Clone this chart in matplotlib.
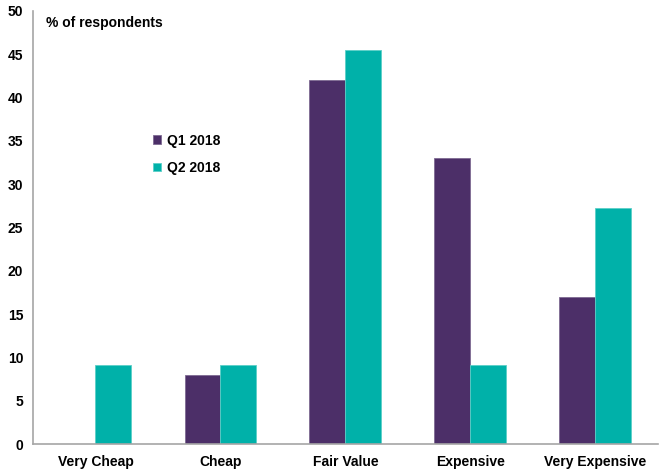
import numpy as np
import matplotlib.pyplot as plt

plt.rcParams['font.family'] = ['Liberation Sans', 'DejaVu Sans']
plt.rcParams['font.weight'] = 'bold'

# survey results, % of respondents
categories = ['Very Cheap', 'Cheap', 'Fair Value', 'Expensive', 'Very Expensive']
q1_2018 = [0, 8, 42, 33, 17]
q2_2018 = [9.1, 9.1, 45.5, 9.1, 27.3]

purple = '#4C2F68'
teal = '#00B1A9'

fig = plt.figure(figsize=(6.59, 4.70), dpi=100)
ax = fig.add_axes([0.050, 0.055, 0.948, 0.922])

x = np.arange(len(categories))
w = 0.287
ax.bar(x - w / 2, q1_2018, w, color=purple, label='Q1 2018',
       edgecolor='#7E6A92', linewidth=0.6)
ax.bar(x + w / 2, q2_2018, w, color=teal, label='Q2 2018',
       edgecolor='#5CCFC8', linewidth=0.6)

ax.set_xlim(-0.5, 4.5)
ax.set_ylim(0, 50)
ax.set_yticks(range(0, 51, 5))
ax.set_xticks(x)
ax.set_xticklabels(categories)
ax.tick_params(axis='both', length=0, labelsize=10)
ax.tick_params(axis='x', pad=8)
ax.tick_params(axis='y', pad=7)
for lbl in ax.get_xticklabels() + ax.get_yticklabels():
    lbl.set_fontweight('bold')

for s in ['top', 'right']:
    ax.spines[s].set_visible(False)
for s in ['left', 'bottom']:
    ax.spines[s].set_color('#A6A6A6')
    ax.spines[s].set_linewidth(1.2)

fig.text(0.070, 0.952, '% of respondents', fontsize=10, fontweight='bold',
         va='center', ha='left')

ax.legend(loc='upper left', bbox_to_anchor=(0.213, 0.742), bbox_transform=fig.transFigure,
          frameon=False, handlelength=0.6, handleheight=0.6, handletextpad=0.4,
          labelspacing=0.95, prop={'size': 10, 'weight': 'bold'})

fig.savefig('out.png', dpi=100)
